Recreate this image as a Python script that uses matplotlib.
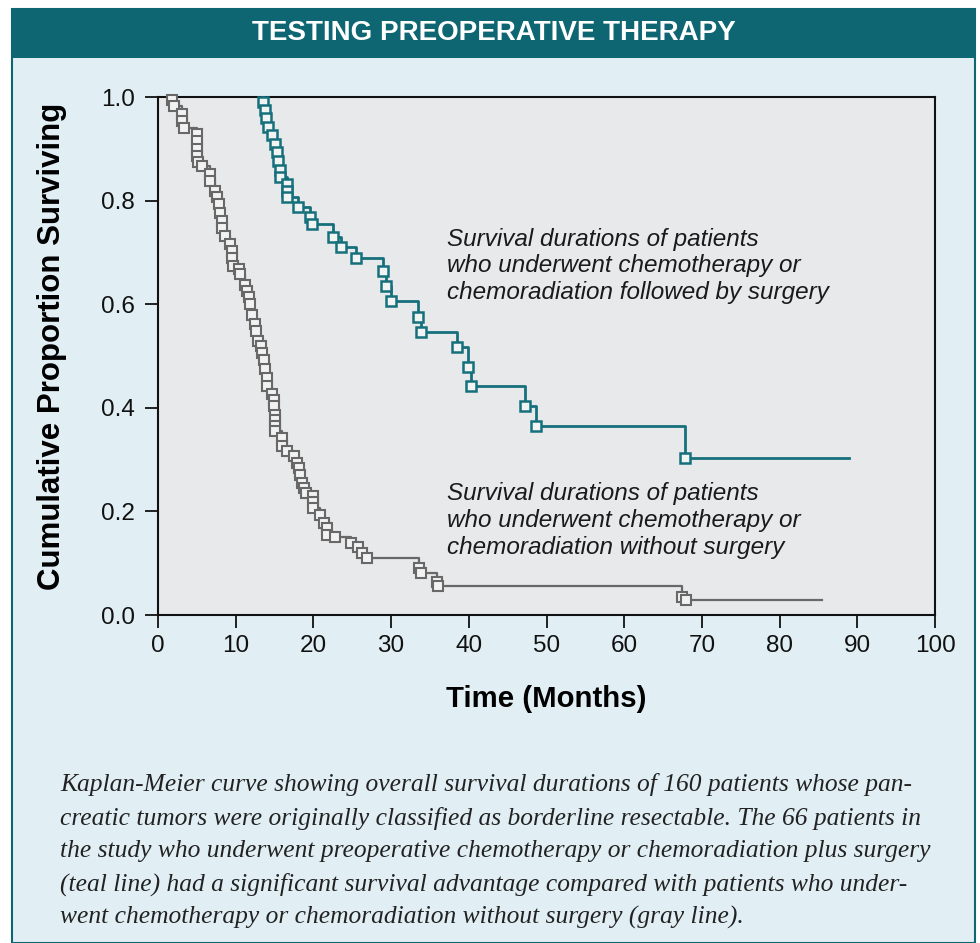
import matplotlib
matplotlib.use("Agg")
import matplotlib.pyplot as plt
from matplotlib.patches import Rectangle

# Kaplan-Meier step points (months, cumulative proportion surviving)
surgery_months = [13.5, 13.5, 13.8, 13.9, 14.1, 14.7, 15.1, 15.3, 15.5, 15.7, 15.7,
                  16.6, 16.6, 16.6, 18.0, 19.5, 19.8, 22.5, 23.5, 25.5, 28.9, 29.3,
                  30.0, 33.4, 33.9, 38.5, 39.9, 40.3, 47.2, 48.6, 67.8, 88.9]
surgery_surv = [1.0, 0.990, 0.975, 0.959, 0.943, 0.927, 0.909, 0.893, 0.877, 0.859, 0.845,
                0.832, 0.819, 0.807, 0.788, 0.768, 0.754, 0.729, 0.710, 0.690, 0.664, 0.636,
                0.606, 0.575, 0.546, 0.518, 0.478, 0.443, 0.403, 0.364, 0.303, 0.303]

nosurg_months = [1.8, 1.8, 2.1, 3.1, 3.1, 3.3, 5.0, 5.0, 5.0, 5.0, 5.2, 5.6, 6.7, 6.7,
                 7.4, 7.6, 7.8, 8.0, 8.2, 8.2, 8.6, 9.3, 9.5, 9.5, 9.7, 10.4, 10.6,
                 11.2, 11.4, 11.7, 11.9, 12.1, 12.5, 12.6, 12.9, 13.2, 13.4, 13.6,
                 13.8, 14.0, 14.0, 14.7, 14.9, 14.9, 15.1, 15.1, 15.1, 15.1, 16.0,
                 16.0, 16.6, 17.5, 17.9, 18.1, 18.3, 18.5, 18.8, 19.0, 20.0, 20.0,
                 20.0, 20.9, 21.3, 21.8, 21.8, 22.8, 24.8, 25.8, 26.3, 26.9, 33.6,
                 33.9, 35.9, 36.1, 67.4, 67.9, 85.4]
nosurg_surv = [1.0, 0.995, 0.983, 0.967, 0.954, 0.941, 0.928, 0.915, 0.899, 0.886, 0.874,
               0.867, 0.851, 0.838, 0.819, 0.806, 0.793, 0.777, 0.761, 0.748, 0.732,
               0.716, 0.703, 0.690, 0.674, 0.667, 0.658, 0.638, 0.625, 0.613, 0.600,
               0.580, 0.561, 0.548, 0.529, 0.519, 0.506, 0.493, 0.474, 0.458, 0.442,
               0.426, 0.416, 0.403, 0.387, 0.377, 0.364, 0.355, 0.342, 0.327, 0.316,
               0.306, 0.293, 0.284, 0.271, 0.255, 0.245, 0.235, 0.229, 0.219, 0.206,
               0.193, 0.177, 0.168, 0.155, 0.151, 0.139, 0.132, 0.119, 0.110, 0.090,
               0.081, 0.064, 0.056, 0.035, 0.028, 0.028]

x_ticks = [0, 10, 20, 30, 40, 50, 60, 70, 80, 90, 100]
y_ticks = [0.0, 0.2, 0.4, 0.6, 0.8, 1.0]

title = "TESTING PREOPERATIVE THERAPY"
surgery_note = ("Survival durations of patients\nwho underwent chemotherapy or\n"
                "chemoradiation followed by surgery")
nosurg_note = ("Survival durations of patients\nwho underwent chemotherapy or\n"
               "chemoradiation without surgery")
caption_lines = [
    "Kaplan-Meier curve showing overall survival durations of 160 patients whose pan-",
    "creatic tumors were originally classified as borderline resectable. The 66 patients in",
    "the study who underwent preoperative chemotherapy or chemoradiation plus surgery",
    "(teal line) had a significant survival advantage compared with patients who under-",
    "went chemotherapy or chemoradiation without surgery (gray line).",
]

TEAL = "#16707c"
HEADER = "#0e6672"
GRAY = "#686868"
PANEL = "#e1eff5"
PLOTBG = "#e8e9eb"

plt.rcParams["font.family"] = ["Liberation Sans", "DejaVu Sans"]

W, H = 980, 943
fig = plt.figure(figsize=(W / 100, H / 100), dpi=100)
fig.patch.set_facecolor("white")

# panel + header bar (pixel -> figure coords)
def fx(px):
    return px / W

def fy(py):
    return 1 - py / H

fig.patches.append(Rectangle((fx(12), 0), fx(975) - fx(12), fy(9), transform=fig.transFigure,
                             facecolor=PANEL, edgecolor=HEADER, linewidth=1.5, zorder=-3))
fig.patches.append(Rectangle((fx(12), fy(58)), fx(975) - fx(12), fy(9) - fy(58),
                             transform=fig.transFigure, facecolor=HEADER, edgecolor="none", zorder=-2))
fig.text(0.5 * (fx(12) + fx(975)), fy(33), title, color="white", fontsize=20,
         fontweight="bold", ha="center", va="center",
         family=["Liberation Sans Narrow", "Liberation Sans", "DejaVu Sans"])

ax = fig.add_axes([fx(158), fy(615), fx(935) - fx(158), fy(97) - fy(615)])
ax.set_facecolor(PLOTBG)

ax.plot(nosurg_months, nosurg_surv, drawstyle="steps-post", color=GRAY, linewidth=1.6,
        marker="s", markersize=6.5, markerfacecolor="#f2f2f2", markeredgecolor=GRAY,
        markeredgewidth=1.5, markevery=slice(1, len(nosurg_months) - 1), clip_on=False, zorder=3)
ax.plot(surgery_months, surgery_surv, drawstyle="steps-post", color=TEAL, linewidth=2.0,
        marker="s", markersize=6.5, markerfacecolor="#f2f4f4", markeredgecolor=TEAL,
        markeredgewidth=1.8, markevery=slice(1, len(surgery_months) - 1), clip_on=False, zorder=4)

ax.set_xlim(0, 100)
ax.set_ylim(0, 1.0)
ax.set_xticks(x_ticks)
ax.set_yticks(y_ticks)
ax.set_yticklabels([f"{v:.1f}" for v in y_ticks])
ax.tick_params(direction="out", length=9.5, width=1.3, labelsize=17.5, colors="#111111")
ax.tick_params(axis="y", pad=7)
ax.tick_params(axis="x", pad=5)
for s in ax.spines.values():
    s.set_linewidth(1.5)
    s.set_color("#111111")

ax.set_xlabel("Time (Months)", fontsize=21.2, fontweight="bold", labelpad=20)
ax.set_ylabel("Cumulative Proportion Surviving", fontsize=22.5, fontweight="bold")
ax.yaxis.set_label_coords(-0.117, 0.519)

ax.text(37.2, 0.748, surgery_note, fontsize=17.5, style="italic", color="#1a1a1a",
        va="top", ha="left", linespacing=1.22)
ax.text(37.2, 0.256, nosurg_note, fontsize=17.5, style="italic", color="#1a1a1a",
        va="top", ha="left", linespacing=1.22)

for i, line in enumerate(caption_lines):
    fig.text(fx(60), fy(785 + 33 * i), line, fontsize=18.4, style="italic", color="#222222",
             ha="left", va="center", family=["Liberation Serif", "DejaVu Serif"])

fig.savefig("out.png", dpi=100, facecolor=fig.get_facecolor())
